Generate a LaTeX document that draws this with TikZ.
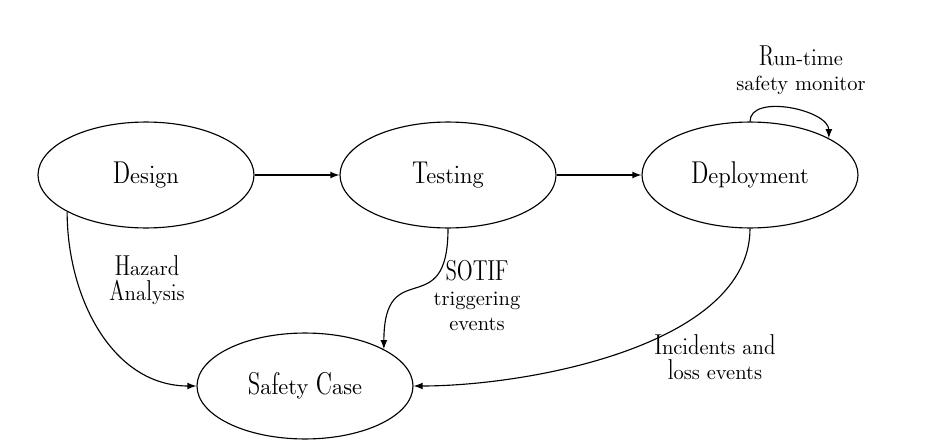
\documentclass[tikz,border=0pt]{standalone}
\usepackage{fontspec}
\usetikzlibrary{arrows,shapes.geometric}

% Dunhill for the text, plain Latin Modern for a few label lines
\newfontfamily\dunh[Extension=.otf]{lmromandunh10-regular}
\newcommand{\plainlm}{\rmfamily}
\newcommand{\statefont}{\fontsize{10.95}{13.6}\dunh}
\newcommand{\labelfont}{\fontsize{10}{12.2}\dunh}

\tikzset{
    state/.style={draw,ellipse,minimum width=105.4pt,minimum height=51.7pt,inner sep=0pt,font=\statefont},
    edgelabel/.style={align=center,font=\labelfont,inner sep=1pt},
    trans/.style={-latex},
}

\begin{document}
\begin{tikzpicture}[x=0.488pt,y=0.488pt,line width=0.55pt]
    \useasboundingbox (0,0) rectangle (925,446);

    % States:
    \node [state] (design)     at (146,271) {Design};
    \node [state] (testing)    at (448,271) {Testing};
    \node [state] (deployment) at (750,271) {Deployment};
    \node [state] (safety)     at (305,60)  {Safety Case};

    % Labels of the transitions:
    \node [edgelabel] (hazard)    at (147,166) {Hazard\\Analysis};
    \node [edgelabel] (sotif)     at (477,150) {SOTIF\\{\plainlm triggering}\\{\plainlm events}};
    \node [edgelabel] (incidents) at (715,89)  {Incidents and\\loss events};
    \node [edgelabel] (monitor)   at (801,376) {Run-time\\{\plainlm safety monitor}};

    % Transitions:
    \draw [trans] (design) -- (testing);
    \draw [trans] (testing) -- (deployment);
    \draw [trans] (design.205) to [out=-90,in=180] (safety.west);
    \draw [trans] (testing.south) to [out=-90,in=90,looseness=1.8] (safety.25);
    \draw [trans] (deployment.south) to [out=-90,in=0,looseness=0.8] (safety.east);
    % Self loop on top of the deployment state
    \draw [trans] (deployment.north) to [out=90,in=90,looseness=0.9] (deployment.25);
\end{tikzpicture}
\end{document}
